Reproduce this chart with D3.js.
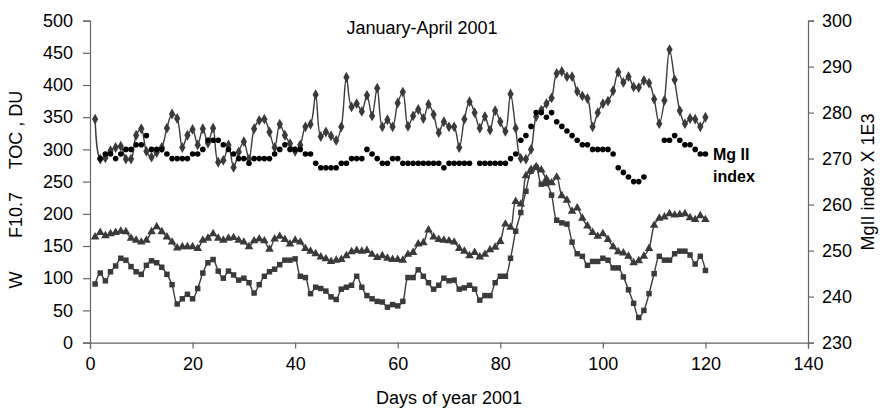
<!DOCTYPE html>
<html><head><meta charset="utf-8">
<script src="https://cdn.jsdelivr.net/npm/d3@7"></script>
<style>body{margin:0;background:#fff}svg{display:block;font-family:"Liberation Sans",Arial,sans-serif}</style>
</head><body><svg id="c" width="887" height="412"></svg>
<script>
const days = d3.range(1, 121);
const toc = [347,285,287,298,303,305,285,285,322,332,297,288,295,303,333,355,348,303,322,331,307,332,310,333,280,283,307,272,296,312,285,332,345,347,327,303,339,322,309,297,307,335,339,385,320,327,321,314,335,412,366,371,359,384,352,395,335,346,335,372,389,336,352,362,348,370,354,326,343,335,335,303,347,374,357,333,351,330,360,343,328,386,333,286,285,300,351,361,371,380,418,421,413,413,390,383,379,335,357,371,375,391,420,404,413,397,396,407,403,378,340,376,455,408,360,340,348,347,335,350];
const f107 = [164,171,166,169,171,173,172,162,159,156,159,172,180,172,164,156,147,149,149,149,146,159,162,169,162,159,162,163,159,156,149,158,161,158,145,161,165,160,153,159,156,146,142,138,133,130,126,128,129,135,141,143,142,143,137,132,135,131,129,129,128,137,140,153,155,175,164,160,159,158,156,146,142,135,140,133,137,144,148,157,184,179,219,215,259,269,273,268,254,248,257,228,221,204,209,193,181,171,165,169,160,149,141,139,134,124,127,134,146,182,193,195,200,198,199,200,194,191,197,191];
const wolf = [91,108,96,110,119,131,128,118,110,106,120,127,124,117,106,90,60,68,75,68,84,108,124,129,111,100,111,105,97,100,93,77,90,103,110,114,121,128,128,130,103,101,76,86,84,80,71,67,83,86,89,103,86,73,68,64,63,55,59,57,64,101,101,113,103,93,83,89,100,96,97,83,85,89,83,66,73,73,93,103,103,131,173,202,235,266,272,246,247,229,190,186,184,156,138,134,120,126,126,131,128,116,116,102,82,61,39,50,76,107,134,128,128,138,142,142,136,122,134,112];
const mg2 = [null,270,271,271,270,271,272,272,273,273,275,272,272,272,271,270,270,270,270,271,271,272,274,274,274,273,272,271,270,270,269,270,270,270,270,271,272,273,272,272,272,271,271,269,268,268,268,268,269,269,270,270,270,272,271,270,269,269,270,270,269,269,269,269,269,269,269,269,268,269,269,269,269,269,null,269,269,269,269,269,269,270,271,274,275,277,280,280,279,280,278,277,276,275,274,273,273,272,272,272,272,271,268,267,266,265,265,266,null,null,null,274,274,275,274,273,273,272,271,271];
const xTicks = [0,20,40,60,80,100,120,140];
const yLeftTicks = [0,50,100,150,200,250,300,350,400,450,500];
const yRightTicks = [230,240,250,260,270,280,290,300];

const svg = d3.select("#c");
const L = 90, R = 808, T = 20.6, B = 342.6;
const x = d3.scaleLinear().domain([0,140]).range([L,R]);
const yL = d3.scaleLinear().domain([0,500]).range([B,T]);
const yR = d3.scaleLinear().domain([230,300]).range([B,T]);
const axisCol = "#666", fs = 18;

function styleAxis(g){
  g.selectAll("path,line").attr("stroke", axisCol).attr("stroke-width",1.2);
  g.selectAll("text").attr("font-size", fs).attr("fill","#000").attr("font-family","Liberation Sans, Arial, sans-serif");
}
svg.append("g").attr("transform",`translate(0,${B})`)
  .call(d3.axisBottom(x).tickValues(xTicks).tickSizeOuter(0).tickSize(6).tickPadding(9)).call(styleAxis);
svg.append("g").attr("transform",`translate(${L},0)`)
  .call(d3.axisLeft(yL).tickValues(yLeftTicks).tickSizeOuter(0).tickSize(7).tickPadding(10)).call(styleAxis);
svg.append("g").attr("transform",`translate(${R},0)`)
  .call(d3.axisRight(yR).tickValues(yRightTicks).tickSizeOuter(0).tickSize(6).tickPadding(8)).call(styleAxis);

const lineCol = "#3a3a3a";
function drawSeries(vals, sym, size){
  const pts = days.map((d,i)=>({d, v: vals[i]}));
  svg.append("path").datum(pts)
    .attr("d", d3.line().x(p=>x(p.d)).y(p=>yL(p.v)).curve(d3.curveCatmullRom.alpha(0.5)))
    .attr("fill","none").attr("stroke",lineCol).attr("stroke-width",1.4);
  svg.append("g").selectAll("path").data(pts).join("path")
    .attr("transform", p=>`translate(${x(p.d)},${yL(p.v)})`)
    .attr("d", d3.symbol().type(sym).size(size))
    .attr("fill", lineCol);
}
drawSeries(wolf, d3.symbolSquare, 30);
drawSeries(f107, d3.symbolTriangle, 32);
drawSeries(toc, d3.symbolDiamond, 34);

svg.append("g").selectAll("circle")
  .data(days.map((d,i)=>({d, v: mg2[i]})).filter(p=>p.v!==null)).join("circle")
  .attr("cx", p=>x(p.d)).attr("cy", p=>yR(p.v)).attr("r", 2.8).attr("fill","#000");

const txt = (s, X, Y, opt={}) => svg.append("text").attr("x",X).attr("y",Y)
  .attr("font-size", opt.fs||fs).attr("font-weight", opt.fw||"normal")
  .attr("text-anchor", opt.anchor||"middle").attr("transform", opt.rot?`rotate(-90,${X},${Y})`:null).text(s);

txt("January-April 2001", 422, 34);
txt("Days of year 2001", 449, 404);
txt("Mg II", 713, 160, {anchor:"start", fw:"bold", fs:16});
txt("index", 713, 182, {anchor:"start", fw:"bold", fs:16});
txt("TOC , DU", 22, 130, {rot:true});
txt("F10.7", 22, 215, {rot:true});
txt("W", 22, 280, {rot:true});
txt("MgII index X 1E3", 874, 182, {rot:true});
</script></body></html>
